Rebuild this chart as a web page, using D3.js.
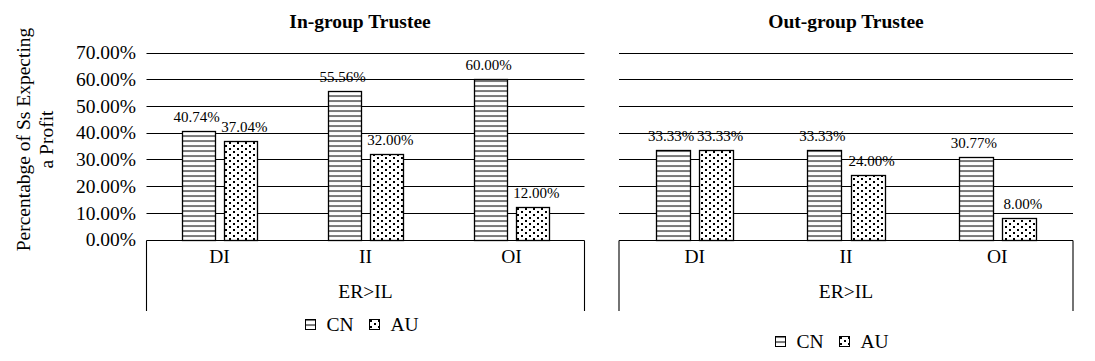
<!DOCTYPE html>
<html>
<head>
<meta charset="utf-8">
<script src="https://cdn.jsdelivr.net/npm/d3@7"></script>
<style>
  html, body { margin: 0; padding: 0; background: #fff; }
  svg { display: block; }
  text { font-family: "Liberation Serif", "Times New Roman", serif; fill: #000; }
</style>
</head>
<body>
<svg id="chart" width="1095" height="361"></svg>
<script>
// ---- data ----
const categories = ["DI", "II", "OI"];
const seriesNames = ["CN", "AU"];
const panelTitles = ["In-group Trustee", "Out-group Trustee"];
const groupLabel = "ER>IL";
const inGroupCN = [40.74, 55.56, 60.00];
const inGroupAU = [37.04, 32.00, 12.00];
const outGroupCN = [33.33, 33.33, 30.77];
const outGroupAU = [33.33, 24.00, 8.00];
const yTicks = [0, 10, 20, 30, 40, 50, 60, 70];
const yTitleLines = ["Percentabge of Ss Expecting", "a Profit"];

const svg = d3.select("#chart");
const defs = svg.append("defs");

// horizontal-line pattern (CN)
const pH = defs.append("pattern").attr("id", "hlines")
  .attr("patternUnits", "userSpaceOnUse").attr("width", 6).attr("height", 5)
  .attr("y", 0.5);
pH.append("rect").attr("width", 6).attr("height", 5).attr("fill", "#fff");
pH.append("line").attr("x1", 0).attr("x2", 6).attr("y1", 0.5).attr("y2", 0.5)
  .attr("stroke", "#000").attr("stroke-width", 1.1);

// dotted pattern (AU)
const pD = defs.append("pattern").attr("id", "dots")
  .attr("patternUnits", "userSpaceOnUse").attr("width", 8).attr("height", 6);
pD.append("rect").attr("width", 8).attr("height", 6).attr("fill", "#fff");
pD.append("rect").attr("x", 1).attr("y", 1).attr("width", 2).attr("height", 2).attr("fill", "#000");
pD.append("rect").attr("x", 5).attr("y", 4).attr("width", 2).attr("height", 2).attr("fill", "#000");

const fills = { CN: "url(#hlines)", AU: "url(#dots)" };

const yTop = 52.5, yBottom = 239.5, boxBottom = 311;
const y = d3.scaleLinear().domain([0, 70]).range([yBottom, yTop]);

const panels = [
  { title: panelTitles[0], x0: 146.5, x1: 584.5, data: { CN: inGroupCN, AU: inGroupAU },
    showTicks: true, titleX: 360, legendY: 319, legendX: 305 },
  { title: panelTitles[1], x0: 619, x1: 1073, data: { CN: outGroupCN, AU: outGroupAU },
    showTicks: false, titleX: 846, legendY: 336, legendX: 775 }
];

panels.forEach(p => {
  const g = svg.append("g");
  const x = d3.scaleBand().domain(categories).range([p.x0, p.x1]).paddingInner(0).paddingOuter(0);
  const step = x.step();
  const bw = step * 0.225, gap = step * 0.06;
  const inner = d3.scaleBand().domain(seriesNames)
    .range([step / 2 - bw - gap / 2, step / 2 + bw + gap / 2])
    .paddingInner(gap / (bw + gap)).paddingOuter(0);

  // gridlines
  g.selectAll("line.grid").data(yTicks).join("line")
    .attr("x1", p.x0).attr("x2", p.x1)
    .attr("y1", d => Math.round(y(d)) + 0.5).attr("y2", d => Math.round(y(d)) + 0.5)
    .attr("stroke", "#000").attr("stroke-width", 1.1);

  // category box sides
  g.append("line").attr("x1", p.x0).attr("x2", p.x0)
    .attr("y1", Math.round(y(0)) + 0.5).attr("y2", boxBottom).attr("stroke", "#000").attr("stroke-width", 1.1);
  g.append("line").attr("x1", p.x1).attr("x2", p.x1)
    .attr("y1", Math.round(y(0)) + 0.5).attr("y2", boxBottom).attr("stroke", "#000").attr("stroke-width", 1.1);

  // tick labels
  if (p.showTicks) {
    g.selectAll("text.tick").data(yTicks).join("text")
      .attr("x", 136).attr("y", d => y(d))
      .attr("dy", "0.35em").attr("text-anchor", "end")
      .attr("font-size", 19.5)
      .text(d => d.toFixed(2) + "%");
  }

  // bars
  const rows = [];
  seriesNames.forEach(s => p.data[s].forEach((v, i) => rows.push({ s, cat: categories[i], v })));
  g.selectAll("rect.bar").data(rows).join("rect")
    .attr("x", d => Math.round(x(d.cat) + inner(d.s)) + 0.5)
    .attr("y", d => Math.round(y(d.v)) + 0.5)
    .attr("width", Math.round(inner.bandwidth()))
    .attr("height", d => Math.round(y(0)) - Math.round(y(d.v)))
    .attr("fill", d => fills[d.s])
    .attr("stroke", "#000").attr("stroke-width", 1.3);

  // data labels
  g.selectAll("text.lbl").data(rows).join("text")
    .attr("x", d => x(d.cat) + inner(d.s) + inner.bandwidth() / 2 + (d.s === "CN" ? -2 : 4))
    .attr("y", d => y(d.v) - 9)
    .attr("text-anchor", "middle").attr("font-size", 15)
    .text(d => d.v.toFixed(2) + "%");

  // category labels
  g.selectAll("text.cat").data(categories).join("text")
    .attr("x", d => x(d) + step / 2).attr("y", 263)
    .attr("text-anchor", "middle").attr("font-size", 19.5)
    .text(d => d);

  g.append("text").attr("x", (p.x0 + p.x1) / 2).attr("y", 297.5)
    .attr("text-anchor", "middle").attr("font-size", 19.5).text(groupLabel);

  // title
  g.append("text").attr("x", p.titleX).attr("y", 28)
    .attr("text-anchor", "middle").attr("font-size", 19.5).attr("font-weight", "bold")
    .text(p.title);

  // legend
  const lg = g.append("g").attr("transform", `translate(${p.legendX},${p.legendY})`);
  const legOffsets = { CN: 0, AU: 64 };
  seriesNames.forEach(s => {
    lg.append("rect").attr("x", legOffsets[s] + 0.5).attr("y", 0.5)
      .attr("width", 10).attr("height", 10)
      .attr("fill", fills[s]).attr("stroke", "#000").attr("stroke-width", 1);
    lg.append("text").attr("x", legOffsets[s] + 21.5).attr("y", 11.5)
      .attr("font-size", 19.5).text(s);
  });
});

// y-axis title
const yt = svg.append("text")
  .attr("transform", "translate(0,139.5) rotate(-90)")
  .attr("text-anchor", "middle").attr("font-size", 19.5);
yt.selectAll("tspan").data(yTitleLines).join("tspan")
  .attr("x", 0).attr("y", (d, i) => i === 0 ? 30 : 53)
  .text(d => d);
</script>
</body>
</html>
